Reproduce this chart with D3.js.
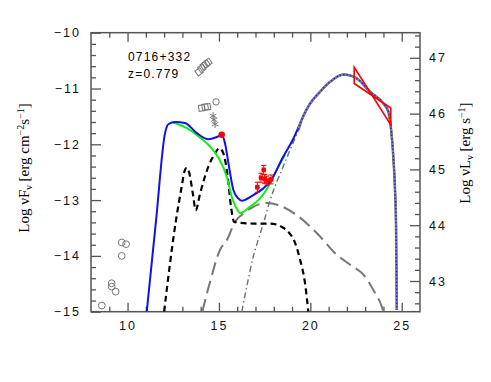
<!DOCTYPE html>
<html>
<head>
<meta charset="utf-8">
<script src="https://cdn.jsdelivr.net/npm/d3@7"></script>
<style>
  body { margin: 0; background: #fff; }
  svg { display: block; }
  .tick text { font-family: 'Liberation Sans', sans-serif; font-size: 12.5px; letter-spacing: 2px; fill: #111; }
</style>
</head>
<body>
<div id="chart"></div>
<script>
// total model (blue)
var blueX = [11.05,11.56,12.05,12.23,12.60,13.14,13.79,14.42,14.88,15.15,15.33,15.55,15.79,16.06,16.25,16.88,17.43,17.80,18.52,19.07,19.53,19.99,20.53,21.08,21.81,22.54,23.27,24.0,24.27,24.40,24.55,24.64,24.69,24.73];
var blueY = [-15.0,-13.36,-11.80,-11.64,-11.60,-11.62,-11.80,-11.91,-11.87,-11.83,-11.98,-12.40,-12.82,-12.97,-13.01,-12.91,-12.79,-12.67,-12.22,-11.90,-11.56,-11.27,-11.06,-10.88,-10.75,-10.82,-11.06,-11.27,-11.42,-11.68,-12.28,-12.87,-13.48,-14.97];

// synchrotron (green)
var greenX = [12.50,13.24,13.97,14.51,14.97,15.43,15.70,15.97,16.16,16.70,17.25,17.70,18.25,18.62];
var greenY = [-11.61,-11.71,-11.88,-12.04,-12.24,-12.58,-12.94,-13.15,-13.23,-13.12,-12.97,-12.76,-12.40,-12.19];

// torus + disk + corona (black dashed)
var diskX = [12.0,12.65,12.96,13.11,13.24,13.38,13.57,13.73,13.97,14.42,14.79,15.02,15.24,15.48,15.66,15.83,16.89,17.80,18.44,18.80,19.17,19.44,19.71,19.89];
var diskY = [-15.0,-13.36,-12.76,-12.49,-12.42,-12.52,-12.88,-13.18,-12.88,-12.40,-12.16,-12.07,-12.16,-12.58,-13.12,-13.39,-13.42,-13.42,-13.48,-13.57,-13.77,-14.07,-14.49,-15.0];

// SSC (gray long dash)
var sscX = [14.09,14.51,15.06,15.43,15.88,16.34,16.88,17.62,18.25,19.26,20.35,21.45,22.18,23.0,23.45,23.91,24.0];
var sscY = [-15.0,-14.47,-13.89,-13.72,-13.39,-13.24,-13.12,-13.05,-13.09,-13.27,-13.59,-13.98,-14.16,-14.37,-14.61,-14.91,-15.0];

// EC (gray dot-dash)
var ecX = [16.25,16.54,16.88,17.14,17.43,17.80,18.07,18.44,18.89,19.35,19.53,19.99,20.53,21.08,21.81,22.54,23.27,24.0,24.27,24.40,24.55,24.64,24.69,24.73];
var ecY = [-15.0,-14.52,-14.01,-13.72,-13.42,-13.0,-12.75,-12.46,-12.10,-11.74,-11.56,-11.27,-11.06,-10.88,-10.75,-10.82,-11.06,-11.27,-11.42,-11.68,-12.28,-12.87,-13.48,-14.97];

// X-ray points (red)
var xrX = [17.10,17.30,17.45,17.50,17.62,17.85];
var xrY = [-12.77,-12.60,-12.46,-12.62,-12.65,-12.63];
var xrErr = [0.09,0.08,0.08,0.08,0.08,0.08];
var xrXErr = [0.08,0.08,0.08,0.08,0.08,0.1];

// UV point (red dot)
var uvX = [15.15];
var uvY = [-11.83];

// Fermi bowtie
var btX = [22.4, 24.4];
var btTop = [-10.62, -11.35];
var btBot = [-10.91, -11.65];

// archival (gray)
var radioX = [8.59,9.13,9.13,9.35,9.68,9.92,9.68];
var radioY = [-14.89,-14.49,-14.55,-14.64,-13.76,-13.79,-14.0];
var optAX = [13.91,14.06,14.19,14.30,14.40];
var optAY = [-10.70,-10.64,-10.59,-10.56,-10.53];
var optBX = [14.06,14.24,14.37];
var optBY = [-11.35,-11.33,-11.33];
var circX = [14.84];
var circY = [-11.24];
var astX = [14.68,14.73,14.79];
var astY = [-11.49,-11.56,-11.64];

var xMajor = [10,15,20,25];
var yMajor = [-15,-14,-13,-12,-11,-10];
var rMajor = [43,44,45,46,47];

var width = 491, height = 382;
var mLeft = 91, mRight = 420, mTop = 32.7, mBottom = 311.7;

var svg = d3.select('#chart').append('svg')
  .attr('width', width).attr('height', height);

var x = d3.scaleLinear().domain([8, 26]).range([mLeft, mRight]);
var y = d3.scaleLinear().domain([-15, -10]).range([mBottom, mTop]);
var yR = d3.scaleLinear().domain([42.45, 47.45]).range([mBottom, mTop]);

svg.append('defs').append('clipPath').attr('id', 'clip')
  .append('rect').attr('x', mLeft).attr('y', mTop)
  .attr('width', mRight - mLeft).attr('height', mBottom - mTop);

var axisColor = '#555';

function styleAxis(g) {
  g.select('.domain').remove();
  g.selectAll('.tick line').attr('stroke', axisColor).attr('stroke-width', 1.3);
}

// minor ticks
var xMinor = d3.range(9, 26, 1).filter(function(d) { return xMajor.indexOf(d) < 0; });
var yMinor = d3.range(-14.8, -10, 0.2).map(function(d) { return +d.toFixed(1); }).filter(function(d) { return d % 1 !== 0; });
var rMinor = d3.range(42.6, 47.45, 0.2).map(function(d) { return +d.toFixed(1); }).filter(function(d) { return d % 1 !== 0; });

svg.append('g').attr('transform', 'translate(0,' + mBottom + ')')
  .call(d3.axisBottom(x).tickValues(xMinor).tickSize(-5).tickFormat('')).call(styleAxis);
svg.append('g').attr('transform', 'translate(0,' + mBottom + ')')
  .call(d3.axisBottom(x).tickValues(xMajor).tickSize(-9).tickPadding(9).tickFormat(d3.format('d'))).call(styleAxis);
svg.append('g').attr('transform', 'translate(0,' + mTop + ')')
  .call(d3.axisTop(x).tickValues(xMinor).tickSize(-5).tickFormat('')).call(styleAxis);
svg.append('g').attr('transform', 'translate(0,' + mTop + ')')
  .call(d3.axisTop(x).tickValues(xMajor).tickSize(-9).tickFormat('')).call(styleAxis);

svg.append('g').attr('transform', 'translate(' + mLeft + ',0)')
  .call(d3.axisLeft(y).tickValues(yMinor).tickSize(-5).tickFormat('')).call(styleAxis);
svg.append('g').attr('transform', 'translate(' + mLeft + ',0)')
  .call(d3.axisLeft(y).tickValues(yMajor).tickSize(-10).tickPadding(10)
    .tickFormat(function(d) { return '\u2212' + Math.abs(d); })).call(styleAxis);

svg.append('g').attr('transform', 'translate(' + mRight + ',0)')
  .call(d3.axisRight(yR).tickValues(rMinor).tickSize(-5).tickFormat('')).call(styleAxis);
svg.append('g').attr('transform', 'translate(' + mRight + ',0)')
  .call(d3.axisRight(yR).tickValues(rMajor).tickSize(-10).tickPadding(9).tickFormat(d3.format('d'))).call(styleAxis);

// frame
svg.append('rect')
  .attr('x', mLeft).attr('y', mTop)
  .attr('width', mRight - mLeft).attr('height', mBottom - mTop)
  .attr('fill', 'none').attr('stroke', axisColor).attr('stroke-width', 1.5);

var plot = svg.append('g').attr('clip-path', 'url(#clip)');

function pts(xs, ys) { return xs.map(function(d, i) { return [d, ys[i]]; }); }
var line = d3.line()
  .x(function(d) { return x(d[0]); })
  .y(function(d) { return y(d[1]); })
  .curve(d3.curveMonotoneX);

// model curves
plot.append('path').attr('d', line(pts(sscX, sscY)))
  .attr('fill', 'none').attr('stroke', '#777').attr('stroke-width', 2)
  .attr('stroke-dasharray', '13,6');

plot.append('path').attr('d', line(pts(ecX, ecY)))
  .attr('fill', 'none').attr('stroke', '#707070').attr('stroke-width', 1.4)
  .attr('stroke-dasharray', '6,3,1.5,3');

plot.append('path').attr('d', line(pts(diskX, diskY)))
  .attr('fill', 'none').attr('stroke', '#000').attr('stroke-width', 2.2)
  .attr('stroke-dasharray', '6,4');

plot.append('path').attr('d', line(pts(greenX, greenY)))
  .attr('fill', 'none').attr('stroke', '#11ee11').attr('stroke-width', 2);

plot.append('path').attr('d', line(pts(blueX, blueY)))
  .attr('fill', 'none').attr('stroke', '#1010f0').attr('stroke-width', 2);

// high-energy hump: gray line with blue dots on top
var hump = pts(ecX, ecY).filter(function(d) { return d[0] >= 19.35; });
plot.append('path').attr('d', line(hump))
  .attr('fill', 'none').attr('stroke', '#808080').attr('stroke-width', 2.6);
plot.append('path').attr('d', line(hump))
  .attr('fill', 'none').attr('stroke', '#1a1aff').attr('stroke-width', 1.3)
  .attr('stroke-dasharray', '1.5,2');

// archival data (gray open symbols)
var gray = '#777';
plot.selectAll('.radio').data(pts(radioX, radioY)).enter().append('circle')
  .attr('cx', function(d) { return x(d[0]); }).attr('cy', function(d) { return y(d[1]); })
  .attr('r', 3.4).attr('fill', 'none').attr('stroke', gray).attr('stroke-width', 1);

plot.selectAll('.circ').data(pts(circX, circY)).enter().append('circle')
  .attr('cx', function(d) { return x(d[0]); }).attr('cy', function(d) { return y(d[1]); })
  .attr('r', 3.2).attr('fill', 'none').attr('stroke', gray).attr('stroke-width', 1);

var sq = d3.symbol().type(d3.symbolSquare).size(36);
plot.selectAll('.optA').data(pts(optAX, optAY)).enter().append('path')
  .attr('d', sq)
  .attr('transform', function(d) { return 'translate(' + x(d[0]) + ',' + y(d[1]) + ') rotate(-35)'; })
  .attr('fill', 'none').attr('stroke', gray).attr('stroke-width', 1);

plot.selectAll('.optB').data(pts(optBX, optBY)).enter().append('path')
  .attr('d', sq)
  .attr('transform', function(d) { return 'translate(' + x(d[0]) + ',' + y(d[1]) + ') rotate(-8)'; })
  .attr('fill', 'none').attr('stroke', gray).attr('stroke-width', 1);

plot.selectAll('.ast').data(pts(astX, astY)).enter().append('path')
  .attr('d', d3.symbol().type(d3.symbolAsterisk).size(40))
  .attr('transform', function(d) { return 'translate(' + x(d[0]) + ',' + y(d[1]) + ')'; })
  .attr('fill', 'none').attr('stroke', gray).attr('stroke-width', 1);

// X-ray points with error bars
var red = '#ff0000';
var xr = plot.selectAll('.xr').data(xrX.map(function(d, i) {
  return { x: d, y: xrY[i], ey: xrErr[i], ex: xrXErr[i] };
})).enter().append('g');
xr.append('line')
  .attr('x1', function(d) { return x(d.x); }).attr('x2', function(d) { return x(d.x); })
  .attr('y1', function(d) { return y(d.y - d.ey); }).attr('y2', function(d) { return y(d.y + d.ey); })
  .attr('stroke', red).attr('stroke-width', 1);
xr.append('line')
  .attr('x1', function(d) { return x(d.x - d.ex); }).attr('x2', function(d) { return x(d.x + d.ex); })
  .attr('y1', function(d) { return y(d.y); }).attr('y2', function(d) { return y(d.y); })
  .attr('stroke', red).attr('stroke-width', 1);
[-1, 1].forEach(function(s) {
  xr.append('line')
    .attr('x1', function(d) { return x(d.x) - 2.5; }).attr('x2', function(d) { return x(d.x) + 2.5; })
    .attr('y1', function(d) { return y(d.y + s * d.ey); }).attr('y2', function(d) { return y(d.y + s * d.ey); })
    .attr('stroke', red).attr('stroke-width', 1);
  xr.append('line')
    .attr('x1', function(d) { return x(d.x + s * d.ex); }).attr('x2', function(d) { return x(d.x + s * d.ex); })
    .attr('y1', function(d) { return y(d.y) - 2.5; }).attr('y2', function(d) { return y(d.y) + 2.5; })
    .attr('stroke', red).attr('stroke-width', 1);
});
xr.append('circle')
  .attr('cx', function(d) { return x(d.x); }).attr('cy', function(d) { return y(d.y); })
  .attr('r', 2.4).attr('fill', red);

// UV point
plot.selectAll('.uv').data(pts(uvX, uvY)).enter().append('circle')
  .attr('cx', function(d) { return x(d[0]); }).attr('cy', function(d) { return y(d[1]); })
  .attr('r', 3.3).attr('fill', red);

// bowtie
var bow = [[btX[0], btTop[0]], [btX[1], btBot[1]], [btX[1], btTop[1]], [btX[0], btBot[0]]];
plot.append('path')
  .attr('d', d3.line().x(function(d) { return x(d[0]); }).y(function(d) { return y(d[1]); })(bow) + 'Z')
  .attr('fill', 'none').attr('stroke', red).attr('stroke-width', 1.6)
  .attr('stroke-linejoin', 'miter');

// annotations
svg.append('text')
  .attr('x', 128).attr('y', 61)
  .style('font-family', 'Liberation Sans, sans-serif').style('font-size', '12px')
  .style('letter-spacing', '1.2px')
  .text('0716+332');
svg.append('text')
  .attr('x', 128).attr('y', 77.5)
  .style('font-family', 'Liberation Sans, sans-serif').style('font-size', '12px')
  .style('letter-spacing', '1.2px')
  .text('z=0.779');

// Y label (left)
var yl = svg.append('text')
  .attr('text-anchor', 'middle')
  .attr('transform', 'translate(29,168)rotate(-90)')
  .style('font-family', 'Liberation Serif, serif')
  .style('font-size', '15px');
yl.append('tspan').text('Log \u03BDF');
yl.append('tspan').attr('dy', 3).style('font-size', '10px').text('\u03BD');
yl.append('tspan').attr('dy', -3).text('  [erg cm');
yl.append('tspan').attr('dy', -5).style('font-size', '10px').text('\u22122');
yl.append('tspan').attr('dy', 5).text('s');
yl.append('tspan').attr('dy', -5).style('font-size', '10px').text('\u22121');
yl.append('tspan').attr('dy', 5).text(']');

// Y label (right)
var yr = svg.append('text')
  .attr('text-anchor', 'middle')
  .attr('transform', 'translate(470,153)rotate(-90)')
  .style('font-family', 'Liberation Serif, serif')
  .style('font-size', '15px');
yr.append('tspan').text('Log \u03BDL');
yr.append('tspan').attr('dy', 3).style('font-size', '10px').text('\u03BD');
yr.append('tspan').attr('dy', -3).text('  [erg s');
yr.append('tspan').attr('dy', -5).style('font-size', '10px').text('\u22121');
yr.append('tspan').attr('dy', 5).text(']');
</script>
</body>
</html>
